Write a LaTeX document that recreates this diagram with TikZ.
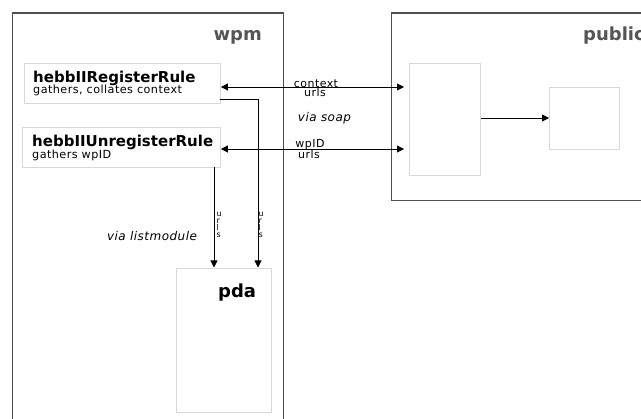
\documentclass[tikz,border=0pt]{standalone}
\usepackage{fontspec}
\setmainfont{DejaVu Sans}
\newfontfamily\widefont[LetterSpace=4]{DejaVu Sans}
\usetikzlibrary{arrows.meta}
\definecolor{outerline}{HTML}{505050}
\definecolor{innerline}{HTML}{D8D8D8}
\definecolor{labelgray}{HTML}{555555}
\tikzset{
  outerbox/.style={draw=outerline, line width=1.1pt, rectangle, anchor=north west, inner sep=0pt},
  innerbox/.style={draw=innerline, line width=0.9pt, rectangle, anchor=north west, inner sep=0pt, fill=white},
  bigtitle/.style={font=\fontsize{18}{18}\selectfont\bfseries, inner sep=0pt},
  ruletitle/.style={font=\fontsize{15}{15}\selectfont\bfseries, inner sep=0pt, anchor=base west},
  rulesub/.style={font=\widefont\fontsize{11.2}{11.2}\selectfont, inner sep=0pt, anchor=base west},
  lbl/.style={font=\widefont\fontsize{11}{11}\selectfont, inner sep=0pt, anchor=base},
  itlbl/.style={font=\widefont\fontsize{12}{12}\selectfont\itshape, inner sep=0pt, anchor=base},
  vlbl/.style={font=\fontsize{8}{7}\selectfont, inner sep=0pt, align=left, anchor=north west},
  arr/.style={line width=0.8pt, -{Triangle[length=7pt,width=7pt]}},
  darr/.style={line width=0.8pt, {Triangle[length=7pt,width=7pt]}-{Triangle[length=7pt,width=7pt]}},
}
\begin{document}
\begin{tikzpicture}[x=1pt,y=-1pt]
\useasboundingbox (0,0) rectangle (641,419);
\clip (0,0) rectangle (641,419);
% outer containers
\node[outerbox, minimum width=271pt, minimum height=430pt] (wpm) at (12,12.5) {};
\node[bigtitle, text=labelgray, anchor=base east] (wpmlabel) at (262,41) {wpm};
\node[outerbox, minimum width=270pt, minimum height=187.5pt] (pub) at (391,12.5) {};
\node[bigtitle, text=labelgray, anchor=base west] (publabel) at (583,40.5) {public};
% rule boxes
\node[innerbox, minimum width=196pt, minimum height=40pt] (reg) at (24,63) {};
\node[ruletitle] (regt) at (33,82.7) {hebbIIRegisterRule};
\node[rulesub] (regs) at (33,94) {gathers, collates context};
\node[innerbox, minimum width=198pt, minimum height=40pt] (unreg) at (22,127) {};
\node[ruletitle] (unregt) at (32,146.7) {hebbIIUnregisterRule};
\node[rulesub] (unregs) at (32,158.5) {gathers wpID};
% public inner boxes
\node[innerbox, minimum width=71pt, minimum height=112pt] (pb1) at (409,63) {};
\node[innerbox, minimum width=70pt, minimum height=62pt] (pb2) at (549,87) {};
% pda box
\node[innerbox, minimum width=95pt, minimum height=144pt] (pda) at (176,268) {};
\node[bigtitle, anchor=base west] (pdalabel) at (218,298) {pda};
% coordinates
\coordinate (a1l) at (reg.east |- 0,87);
\coordinate (a1r) at (404,87);
\coordinate (a2l) at (unreg.east |- 0,149);
\coordinate (a2r) at (404,149);
\coordinate (rtap) at (220,99.5);
\coordinate (rbend) at (258,99.5);
\coordinate (rend) at (258,267.5);
\coordinate (utap) at (214,167);
\coordinate (uend) at (214,267.5);
% connectors
\draw[darr] (a1l) -- (a1r);
\draw[darr] (a2l) -- (a2r);
\draw[arr] (pb1.east |- 0,118) -- (pb2.west |- 0,118);
\draw[arr] (rtap) -- (rbend) -- (rend);
\draw[arr] (utap) -- (uend);
% labels
\node[lbl] (l1) at (316,87.3) {context};
\node[lbl] (l2) at (315,97) {urls};
\node[itlbl] (l3) at (324.5,121.5) {via soap};
\node[lbl] (l4) at (310,147.3) {wpID};
\node[lbl] (l5) at (309,158.5) {urls};
\node[itlbl] (l6) at (152,240.5) {via listmodule};
\node[vlbl] (v1) at (216.5,212) {u\\r\\l\\s};
\node[vlbl] (v2) at (258.5,212) {u\\r\\l\\s};
\end{tikzpicture}
\end{document}
